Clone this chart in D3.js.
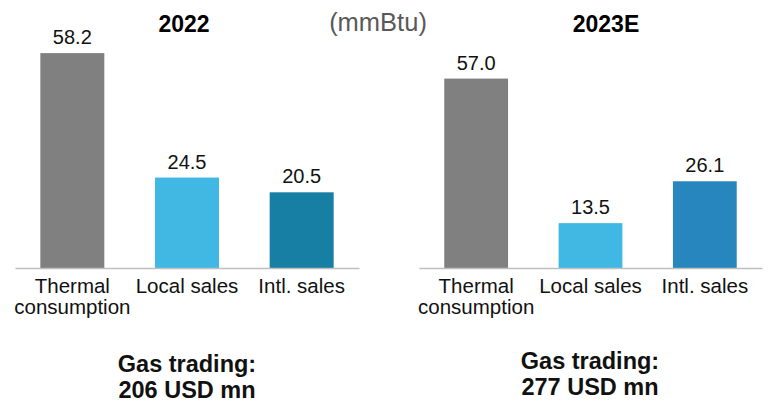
<!DOCTYPE html>
<html>
<head>
<meta charset="utf-8">
<script src="https://cdn.jsdelivr.net/npm/d3@7"></script>
<style>
  body { margin: 0; background: #fff; }
  text { font-family: "Liberation Sans", Arial, sans-serif; }
</style>
</head>
<body>
<div id="vis"></div>
<script>
// Chart data
var categories = ["Thermal consumption", "Local sales", "Intl. sales"];
var categoryLines = [["Thermal", "consumption"], ["Local sales"], ["Intl. sales"]];
var values2022 = [58.2, 24.5, 20.5];
var values2023 = [57.0, 13.5, 26.1];
var colors2022 = ["#808080", "#41b8e4", "#167fa3"];
var colors2023 = ["#808080", "#41b8e4", "#2786bd"];
var panelTitles = ["2022", "2023E"];
var footerLines = [["Gas trading:", "206 USD mn"], ["Gas trading:", "277 USD mn"]];
var unitLabel = "(mmBtu)";

var width = 769, height = 405;
var baseline = 268;

var svg = d3.select("#vis").append("svg")
    .attr("width", width)
    .attr("height", height);

// each panel has its own scale (the two charts are not on a shared axis)
var panels = [
    {title: panelTitles[0], values: values2022, colors: colors2022, x0: 15, x1: 359, top: 28, titleX: 184, titleY: 32, footX: 187, footY: 372},
    {title: panelTitles[1], values: values2023, colors: colors2023, x0: 419, x1: 762, top: 52, titleX: 606, titleY: 32, footX: 590, footY: 369}
];

panels.forEach(function(p, pi) {
    var x = d3.scaleBand()
        .domain(categories)
        .range([p.x0, p.x1])
        .paddingInner(0.442)
        .paddingOuter(0.221);

    var y = d3.scaleLinear()
        .domain([0, 65])
        .range([baseline, p.top]);

    var g = svg.append("g");

    g.selectAll("rect")
        .data(p.values)
        .enter().append("rect")
        .attr("x", (d, i) => x(categories[i]))
        .attr("width", x.bandwidth())
        .attr("y", d => y(d))
        .attr("height", d => y(0) - y(d))
        .attr("fill", (d, i) => p.colors[i]);

    // value labels
    g.selectAll(".val")
        .data(p.values)
        .enter().append("text")
        .attr("class", "val")
        .attr("x", (d, i) => x(categories[i]) + x.bandwidth() / 2)
        .attr("y", d => y(d) - 9)
        .attr("text-anchor", "middle")
        .style("font-size", "20px")
        .attr("fill", "#111")
        .text(d => d3.format(".1f")(d));

    // category axis
    var axis = g.append("g")
        .attr("transform", "translate(0," + baseline + ")")
        .call(d3.axisBottom(x).tickSize(0).tickPadding(0));
    axis.select(".domain").attr("stroke", "#bfbfbf").attr("stroke-width", 1.5);
    axis.selectAll(".tick text").remove();
    axis.selectAll(".tick").append("text")
        .attr("text-anchor", "middle")
        .attr("fill", "#111")
        .style("font-size", "20.5px")
        .each(function(d) {
            var lines = categoryLines[categories.indexOf(d)];
            var t = d3.select(this);
            lines.forEach(function(l, k) {
                t.append("tspan").attr("x", 0).attr("y", 25 + k * 21).text(l);
            });
        });

    // panel title
    svg.append("text")
        .attr("x", p.titleX)
        .attr("y", p.titleY)
        .attr("text-anchor", "middle")
        .style("font-size", "23px")
        .style("font-weight", "bold")
        .text(p.title);

    // footer note
    var foot = svg.append("text")
        .attr("text-anchor", "middle")
        .style("font-size", "23.5px")
        .style("font-weight", "bold")
        .attr("fill", "#111");
    footerLines[pi].forEach(function(l, k) {
        foot.append("tspan").attr("x", p.footX).attr("y", p.footY + k * 26).text(l);
    });
});

svg.append("text")
    .attr("x", 378)
    .attr("y", 31)
    .attr("text-anchor", "middle")
    .style("font-size", "25.5px")
    .attr("fill", "#595959")
    .text(unitLabel);
</script>
</body>
</html>
